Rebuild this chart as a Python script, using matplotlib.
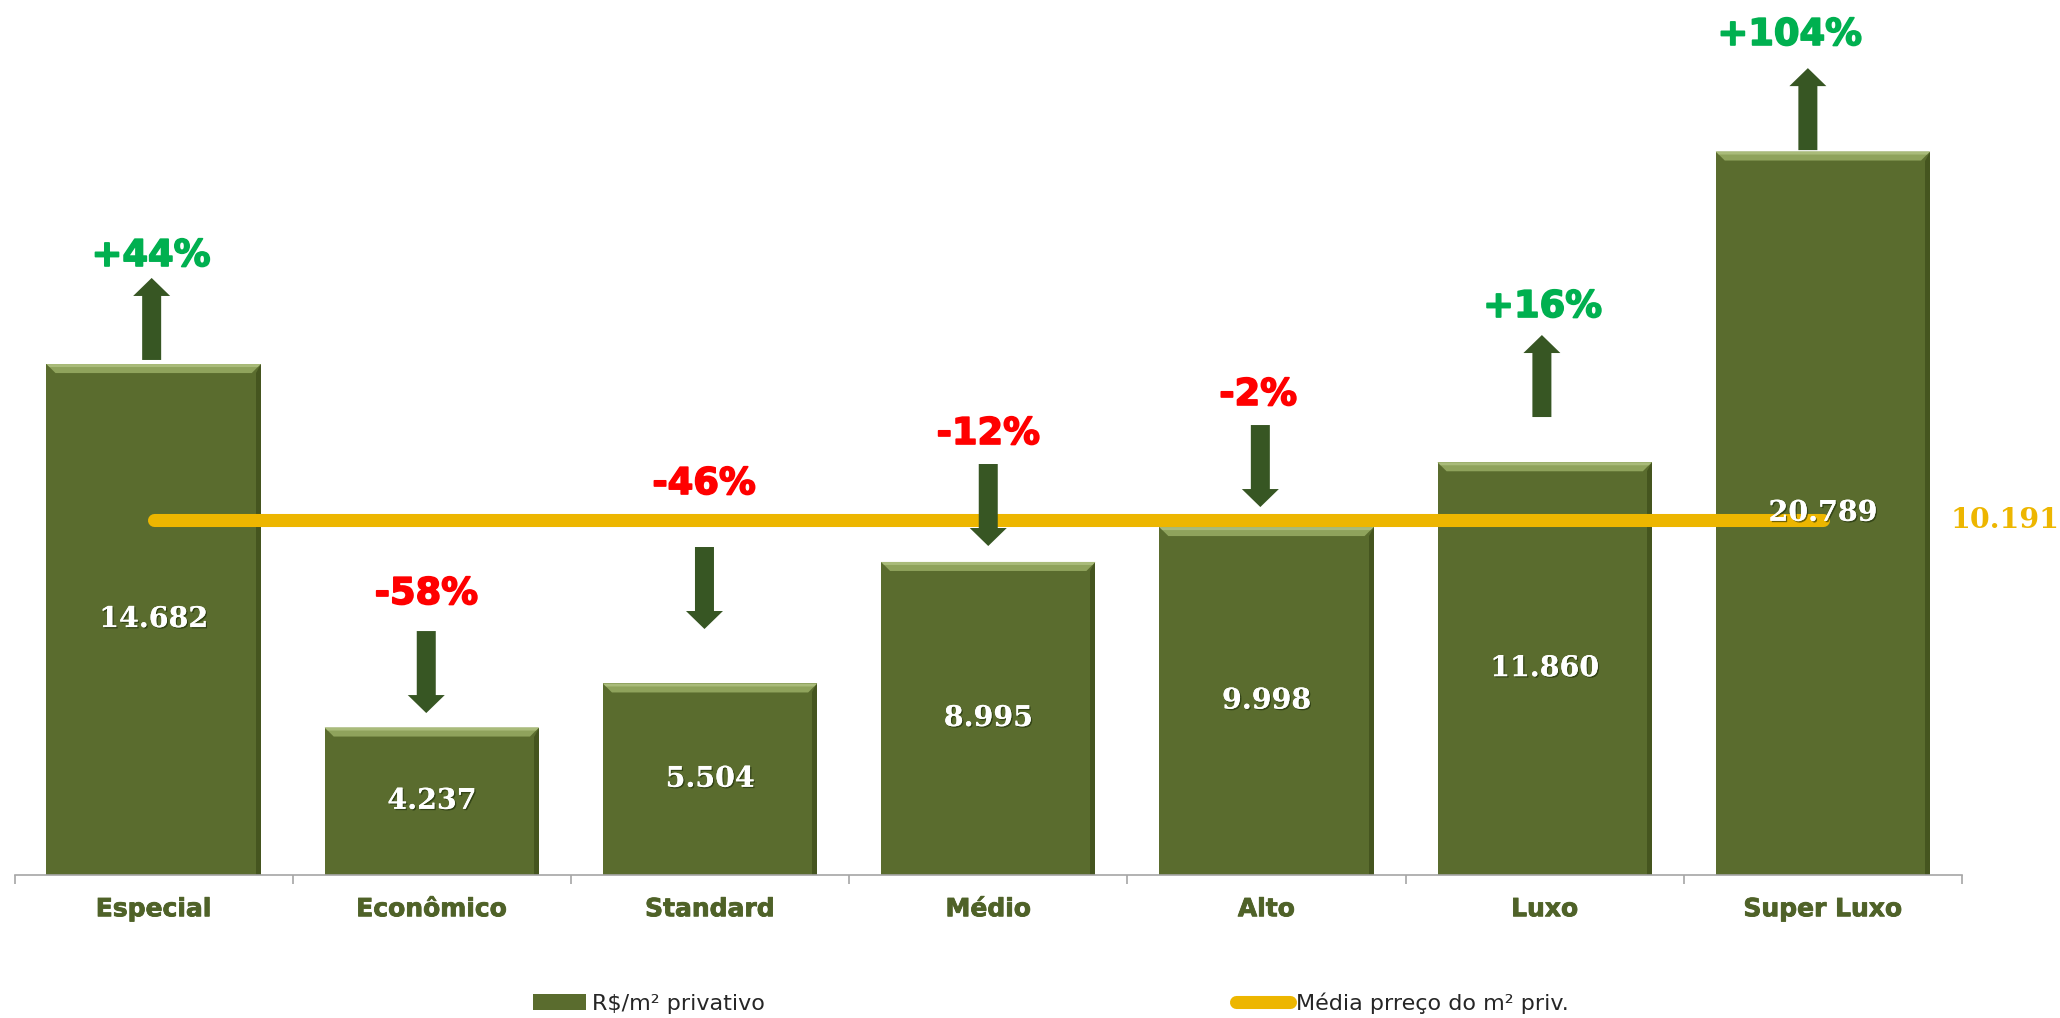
import numpy as np
import matplotlib
matplotlib.use('Agg')
import matplotlib.pyplot as plt
from matplotlib.patches import Polygon
import matplotlib.patheffects as pe

# ---------------- data ----------------
categories = ['Especial', 'Econômico', 'Standard', 'Médio', 'Alto', 'Luxo', 'Super Luxo']
values = [14682, 4237, 5504, 8995, 9998, 11860, 20789]
average = 10191
variation = ['+44%', '-58%', '-46%', '-12%', '-2%', '+16%', '+104%']
bar_label = 'R$/m² privativo'
line_label = 'Média prreço do m² priv.'

# ---------------- annotation layout (data units) ----------------
arrow_tail = [14800, 7010, 9425, 11810, 12930, 13160, 20830]
label_base = [17500, 7787, 10948, 12385, 13506, 16034, 23851]
arrow_dx = [-0.007, -0.02, -0.02, 0.0, -0.022, -0.01, -0.054]
label_dx = [-0.01, -0.02, -0.022, 0.0, -0.03, -0.008, -0.12]

# ---------------- styles ----------------
BAR = '#5A6C2E'
BAR_LIGHT = '#8FA35C'
BAR_DARK = '#3E4E1B'
ARROW = '#375623'
GOLD = '#EDB600'
UP = '#00B050'
DOWN = '#FF0000'
CAT = '#4F6228'

W, H = 2060, 1018
fig = plt.figure(figsize=(W / 100, H / 100), dpi=100)
ax_l, ax_b, ax_w, ax_h = 14.5 / W, 143 / H, 1947.5 / W, 870 / H
ax = fig.add_axes([ax_l, ax_b, ax_w, ax_h])
ax.set_xlim(-0.5, 6.5)
ax.set_ylim(0, 25000)

px_x = 7.0 / (ax_w * W)        # data units per pixel (x)
px_y = 25000.0 / (ax_h * H)    # data units per pixel (y)

x = np.arange(len(categories))
bars = ax.bar(x, values, width=0.77, color=BAR, zorder=2, label=bar_label)

# bevel effect derived from each bar
for p in bars.patches:
    x0 = p.get_x(); x1 = x0 + p.get_width(); top = p.get_height()
    b = 9
    ax.add_patch(Polygon([(x1, top), (x1, 0), (x1 - 5 * px_x, 0),
                          (x1 - 5 * px_x, top - b * px_y)],
                         closed=True, color=BAR_DARK, alpha=0.75, lw=0, zorder=2.1))
    ax.add_patch(Polygon([(x0, top), (x1, top), (x1 - b * px_x, top - b * px_y),
                          (x0 + b * px_x, top - b * px_y)],
                         closed=True, color=BAR_LIGHT, lw=0, zorder=2.2))
    ax.add_patch(Polygon([(x0, top), (x1, top), (x1 - 3 * px_x, top - 3 * px_y),
                          (x0 + 3 * px_x, top - 3 * px_y)],
                         closed=True, color='#A9BB7A', lw=0, zorder=2.3))

line, = ax.plot(x, [average] * len(x), color=GOLD, lw=9.4,
                solid_capstyle='round', zorder=3, label=line_label)

# value labels
for xi, v in zip(x, values):
    ax.text(xi, v / 2, f'{v:,}'.replace(',', '.'), ha='center', va='center',
            fontsize=20.5, family='DejaVu Serif', weight='bold', color='white',
            zorder=6,
            path_effects=[pe.withSimplePatchShadow(offset=(1, -1),
                                                  shadow_rgbFace='#1A2A08', alpha=0.6),
                          pe.Normal()])

ax.text(6.655, average, f'{average:,}'.replace(',', '.'), ha='center', va='center',
        fontsize=20.5, family='DejaVu Serif', weight='bold', color=GOLD,
        clip_on=False, zorder=6)

# arrows and variation labels
ARROW_LEN = 82 * px_y
shaft_w = 19 * px_x
head_w = 37 * px_x
head_len = 18 * px_y
for xi, tail, lb, adx, ldx, txt in zip(x, arrow_tail, label_base, arrow_dx, label_dx, variation):
    s = 1 if txt.startswith('+') else -1
    xc = xi + adx
    y0 = tail
    y1 = tail + s * ARROW_LEN
    yh = y1 - s * head_len
    pts = [(xc - shaft_w / 2, y0), (xc + shaft_w / 2, y0), (xc + shaft_w / 2, yh),
           (xc + head_w / 2, yh), (xc, y1), (xc - head_w / 2, yh), (xc - shaft_w / 2, yh)]
    ax.add_patch(Polygon(pts, closed=True, color=ARROW, lw=0, zorder=4, clip_on=False))
    col = UP if s > 0 else DOWN
    ax.text(xi + ldx, lb, txt, ha='center', va='baseline', fontsize=26.5,
            weight='bold', color=col, zorder=6, clip_on=False,
            path_effects=[pe.withStroke(linewidth=1.2, foreground=col)])

# axes styling
for sp in ['left', 'top', 'right']:
    ax.spines[sp].set_visible(False)
ax.spines['bottom'].set_color('#A6A6A6')
ax.spines['bottom'].set_linewidth(1.2)
ax.set_yticks([])
ax.set_xticks(x)
ax.set_xticklabels(categories, fontsize=18, weight='bold', color=CAT)
for t in ax.get_xticklabels():
    t.set_path_effects([pe.withStroke(linewidth=0.6, foreground=CAT)])
ax.tick_params(axis='x', which='major', length=0, pad=16)
ax.set_xticks(np.arange(-0.5, 7, 1), minor=True)
ax.tick_params(axis='x', which='minor', length=6.5, width=1.2, color='#A6A6A6')

fig.legend(handles=[bars, line], labels=[bar_label, line_label], loc='center',
           bbox_to_anchor=(0.51, 0.0147), ncol=2, frameon=False, fontsize=16,
           handlelength=2.4, handletextpad=0.27, columnspacing=21.2,
           labelcolor='#262626')

fig.savefig('out.png', dpi=100)
